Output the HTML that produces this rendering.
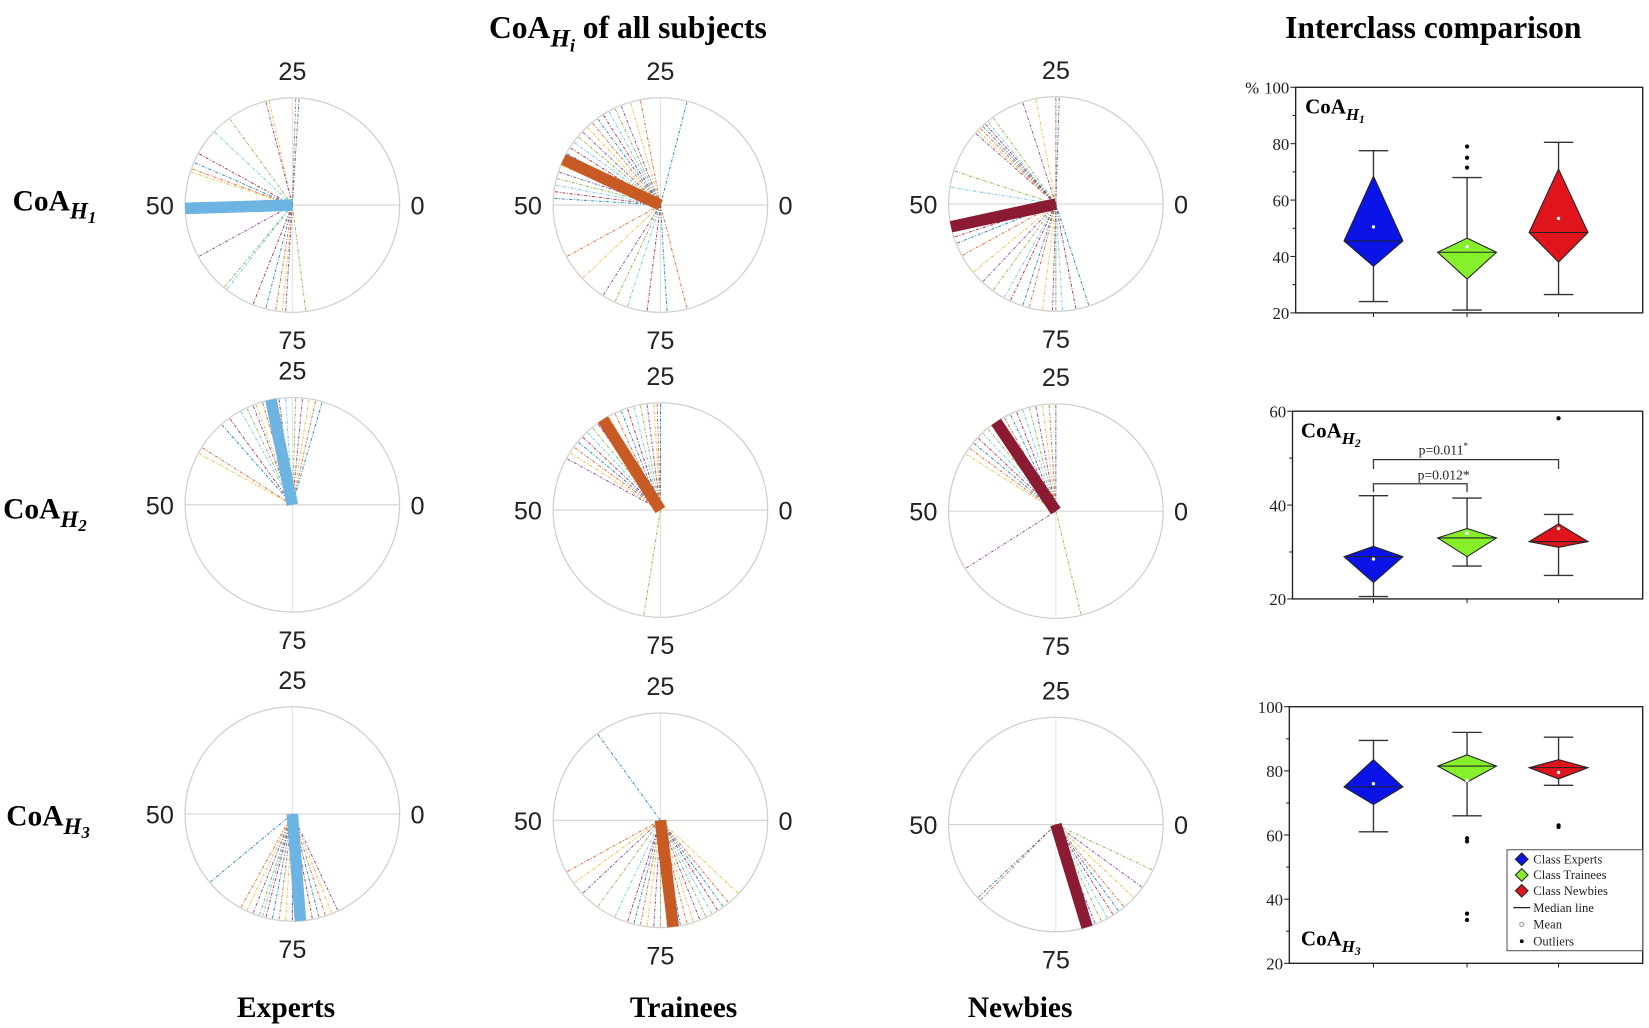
<!DOCTYPE html>
<html><head><meta charset="utf-8">
<style>
html,body{margin:0;padding:0;background:#fff;}
svg{display:block;}
.t{font-family:"Liberation Serif",serif;font-weight:bold;fill:#000;}
.pl{font-family:"Liberation Sans",sans-serif;font-size:24px;fill:#222;}
.ax{font-family:"Liberation Serif",serif;font-size:16px;fill:#222;}
</style></head>
<body>
<svg id="fig" width="1649" height="1028" viewBox="0 0 1568 977.5" preserveAspectRatio="none" xmlns="http://www.w3.org/2000/svg">
<text class="t" x="465" y="36" font-size="30">CoA<tspan font-style="italic" font-size="24" dy="8">H</tspan><tspan font-style="italic" font-size="17" dy="5">i</tspan><tspan dy="-13"> of all subjects</tspan></text>
<text class="t" x="1222" y="36" font-size="30">Interclass comparison</text>
<text class="t" x="12" y="200" font-size="28">CoA<tspan font-style="italic" font-size="22" dy="8">H</tspan><tspan font-style="italic" font-size="16" dy="4">1</tspan></text>
<text class="t" x="3" y="493" font-size="28">CoA<tspan font-style="italic" font-size="22" dy="8">H</tspan><tspan font-style="italic" font-size="16" dy="4">2</tspan></text>
<text class="t" x="6" y="785" font-size="28">CoA<tspan font-style="italic" font-size="22" dy="8">H</tspan><tspan font-style="italic" font-size="16" dy="4">3</tspan></text>
<text class="t" x="272" y="967" font-size="28" text-anchor="middle">Experts</text>
<text class="t" x="650" y="967" font-size="28" text-anchor="middle">Trainees</text>
<text class="t" x="970" y="967" font-size="28" text-anchor="middle">Newbies</text>
<g id="polars"></g>
<g id="boxes"></g>
</svg>
<script>
// ---- polar data (CoA values, 0-100 mapped around circle) ----
const expH1 = [24, 24.5, 28.5, 29, 35, 38, 42, 43.5, 44.5, 45, 58, 64, 64.5, 69, 71, 72.5, 73.5, 74, 77];
const expH1Mean = 50.5;
const traH1 = [21, 28, 29.5, 31, 32, 33, 34, 35, 36, 37, 38, 39, 40, 41, 42, 43, 44, 45, 46, 47, 48, 49, 58, 62, 66, 68, 70, 73, 76, 79];
const traH1Mean = 43;
const newH1 = [24.5, 25, 28, 30, 35, 36, 36.5, 37, 37.5, 38, 38.5, 45, 47.5, 55, 56, 58, 61, 63, 65, 67, 68, 70, 71, 73, 74.5, 75, 76, 78, 80];
const newH1Mean = 53.4;
const expH2 = [20.5, 21.5, 22.5, 23.5, 24.5, 26, 27, 28, 29.5, 30.5, 31, 32, 33, 35, 36.5, 41, 42];
const expH2Mean = 28.2;
const traH2 = [25, 25.5, 26, 27, 28, 29, 30, 31, 32, 33, 35, 36, 37, 38, 39, 40, 41, 42, 72.5];
const traH2Mean = 34;
const newH2 = [25, 26, 27, 28, 29, 30, 31, 32, 33, 34, 35, 36, 37, 38, 39, 40, 41, 59, 78.8];
const newH2Mean = 34.4;
const expH3 = [61, 67, 68, 69, 70, 70.5, 71, 72, 73, 74, 75, 76, 77, 78, 79, 80, 81, 82];
const expH3Mean = 76.2;
const traH3 = [35, 58, 60, 62, 65, 68, 70, 71, 72, 73, 74, 75, 76, 77, 78, 79, 80, 81, 82, 83, 84, 85, 86, 88];
const traH3Mean = 76.9;
const newH3 = [62, 62.5, 80, 81, 82, 83, 84, 85, 86, 88, 90, 93];
const newH3Mean = 79.7;
const lineColors = ['#0072BD','#D95319','#EDB120','#7E2F8E','#77AC30','#4DBEEE','#A2142F'];
const NS = 'http://www.w3.org/2000/svg';
function mk(tag, attrs, parent){const e=document.createElementNS(NS,tag);for(const k in attrs)e.setAttribute(k,attrs[k]);parent.appendChild(e);return e;}
function polar(name, cx, cy, r, vals, mean, thick){
  const g=mk('g',{},document.getElementById('polars'));
  
  
  const c=mk('circle',{cx:cx,cy:cy,r:r,fill:'none',stroke:'#cfcfcf','stroke-width':1.2},g);
  
  
  mk('line',{x1:cx-r,y1:cy,x2:cx+r,y2:cy,stroke:'#d0d0d0','stroke-width':1},g);
  mk('line',{x1:cx,y1:cy-r,x2:cx,y2:cy+r,stroke:'#e2e2e2','stroke-width':1},g);
  const pt=v=>{const a=v/100*2*Math.PI;return [cx+r*Math.cos(a), cy-r*Math.sin(a)];};
  vals.forEach((v,i)=>{const p=pt(v);
    const l=mk('line',{x1:cx,y1:cy,x2:p[0],y2:p[1],stroke:lineColors[i%7],'stroke-width':0.9,'stroke-dasharray':'3 1.5 1 1.5','stroke-opacity':0.85},g);
    
    
  });
  const m=pt(mean);
  const ml=mk('line',{x1:cx,y1:cy,x2:m[0],y2:m[1],stroke:thick,'stroke-width':11},g);
  
  
  const labs=[['25',cx,cy-119],['75',cx,cy+137],['0',cx+119,cy+9],['50',cx-126,cy+9]];
  labs.forEach(L=>{const t=mk('text',{x:L[1],y:L[2],'text-anchor':'middle',class:'pl'},g);t.textContent=L[0];
    
    });
}
const cE='#6cb4e2', cT='#c85a24', cN='#8b1a33';
polar('polar-experts-h1',278,195,102,expH1,expH1Mean,cE);
polar('polar-trainees-h1',628,195,102,traH1,traH1Mean,cT);
polar('polar-newbies-h1',1004,194,102,newH1,newH1Mean,cN);
polar('polar-experts-h2',278,480,102,expH2,expH2Mean,cE);
polar('polar-trainees-h2',628,485,102,traH2,traH2Mean,cT);
polar('polar-newbies-h2',1004,486,102,newH2,newH2Mean,cN);
polar('polar-experts-h3',278,774,102,expH3,expH3Mean,cE);
polar('polar-trainees-h3',628,780,102,traH3,traH3Mean,cT);
polar('polar-newbies-h3',1004,784,102,newH3,newH3Mean,cN);

// ---- box plot data: [experts, trainees, newbies] ----
const h1WhiskLo=[24,21,26.5], h1WhiskHi=[77.5,68,80.5], h1DiaLo=[36.5,32,38], h1DiaHi=[68.5,46.5,71], h1Median=[45.5,41.5,48.5], h1Mean=[50.5,43.5,53.5];
const h1Outliers=[[],[71.5,75,79],[]];
const h1Ticks=[20,40,60,80,100];
const h2WhiskLo=[20.5,27,25], h2WhiskHi=[42,41.5,38], h2DiaLo=[23.5,29,31], h2DiaHi=[31.2,35,36], h2Median=[29,33,32.2], h2Mean=[28.5,34,35];
const h2Outliers=[[],[],[58.5]];
const h2Ticks=[20,40,60];
const h3WhiskLo=[61,66,75.5], h3WhiskHi=[89.5,92,90.5], h3DiaLo=[69.5,76.5,77.5], h3DiaHi=[83.5,85,83.5], h3Median=[75,81.5,81], h3Mean=[76,77,79.5];
const h3Outliers=[[],[33.5,35.5,58,59],[62.5,63]];
const h3Ticks=[20,40,60,80,100];
const boxFill=['#0a14e6','#86f02a','#e0141c'];
const catX=[1306,1395,1482];
function boxplot(name, x0, x1, yTop, yBot, vmin, vmax, ticks, minorStep, lo, hi, dlo, dhi, med, mean, outl){
  const g=mk('g',{},document.getElementById('boxes'));
  
  
  const y=v=>yBot-(v-vmin)/(vmax-vmin)*(yBot-yTop);
  mk('rect',{x:x0,y:yTop,width:x1-x0,height:yBot-yTop,fill:'none',stroke:'#222','stroke-width':1.3},g);
  ticks.forEach(t=>{mk('line',{x1:x0-5,y1:y(t),x2:x0,y2:y(t),stroke:'#222'},g);
    const tx=mk('text',{x:x0-6,y:y(t)+6,'text-anchor':'end',class:'ax'},g);tx.textContent=t;
    
    });
  for(let v=vmin+minorStep; v<vmax; v+=minorStep*2){mk('line',{x1:x0-3,y1:y(v),x2:x0,y2:y(v),stroke:'#222'},g);}
  catX.forEach(cx=>mk('line',{x1:cx,y1:yBot,x2:cx,y2:yBot+4,stroke:'#222'},g));
  catX.forEach((cx,i)=>{
    const w=28, cap=14;
    mk('line',{x1:cx,y1:y(lo[i]),x2:cx,y2:y(dlo[i]),stroke:'#333','stroke-width':1.3},g);
    mk('line',{x1:cx,y1:y(hi[i]),x2:cx,y2:y(dhi[i]),stroke:'#333','stroke-width':1.3},g);
    mk('line',{x1:cx-cap,y1:y(lo[i]),x2:cx+cap,y2:y(lo[i]),stroke:'#333','stroke-width':1.3},g);
    mk('line',{x1:cx-cap,y1:y(hi[i]),x2:cx+cap,y2:y(hi[i]),stroke:'#333','stroke-width':1.3},g);
    const d=mk('polygon',{points:`${cx},${y(dhi[i])} ${cx+w},${y(med[i])} ${cx},${y(dlo[i])} ${cx-w},${y(med[i])}`,fill:boxFill[i],stroke:'#222','stroke-width':1},g);
    
    
    mk('line',{x1:cx-w,y1:y(med[i]),x2:cx+w,y2:y(med[i]),stroke:'#222','stroke-width':1},g);
    mk('circle',{cx:cx,cy:y(mean[i]),r:1.6,fill:'#fff'},g);
    outl[i].forEach(o=>{const c=mk('circle',{cx:cx,cy:y(o),r:2,fill:'#000'},g);
      
      });
  });
  return y;
}
boxplot('boxplot-h1',1232,1562,83,297.5,20,100,h1Ticks,10,h1WhiskLo,h1WhiskHi,h1DiaLo,h1DiaHi,h1Median,h1Mean,h1Outliers);
boxplot('boxplot-h2',1229,1562,391,569.5,20,60,h2Ticks,10,h2WhiskLo,h2WhiskHi,h2DiaLo,h2DiaHi,h2Median,h2Mean,h2Outliers);
boxplot('boxplot-h3',1226,1562,672,916,20,100,h3Ticks,10,h3WhiskLo,h3WhiskHi,h3DiaLo,h3DiaHi,h3Median,h3Mean,h3Outliers);
</script>
<svg style="position:absolute;left:0;top:0" width="1649" height="1028" viewBox="0 0 1568 977.5" preserveAspectRatio="none" xmlns="http://www.w3.org/2000/svg">
<text x="1184" y="89" font-size="16" font-family="Liberation Serif" fill="#222">%</text>
<text class="t" x="1241" y="108" font-size="20">CoA<tspan font-style="italic" font-size="16" dy="6">H</tspan><tspan font-style="italic" font-size="11" dy="3">1</tspan></text>
<text class="t" x="1237" y="416" font-size="20">CoA<tspan font-style="italic" font-size="16" dy="6">H</tspan><tspan font-style="italic" font-size="11" dy="3">2</tspan></text>
<text class="t" x="1237" y="899" font-size="20">CoA<tspan font-style="italic" font-size="16" dy="6">H</tspan><tspan font-style="italic" font-size="11" dy="3">3</tspan></text>
<g fill="none" stroke="#333" stroke-width="1.2">
<path d="M1306,446 V437 H1482 V446"/>
<path d="M1306,468 V460 H1395 V468"/>
</g>
<text x="1349" y="432" font-family="Liberation Serif" font-size="13" fill="#222">p=0.011<tspan font-size="9" dy="-5">*</tspan></text>
<text x="1348" y="456" font-family="Liberation Serif" font-size="13" fill="#222">p=0.012*</text>
<g font-family="Liberation Serif" font-size="12" fill="#222">
<rect x="1433" y="808" width="129" height="96" fill="#fff" stroke="#555" stroke-width="1"/>
<polygon points="1447,811 1453,817 1447,823 1441,817" fill="#0a14e6" stroke="#222"/>
<text x="1458" y="821">Class Experts</text>
<polygon points="1447,826 1453,832 1447,838 1441,832" fill="#86f02a" stroke="#222"/>
<text x="1458" y="836">Class Trainees</text>
<polygon points="1447,841 1453,847 1447,853 1441,847" fill="#e0141c" stroke="#222"/>
<text x="1458" y="851">Class Newbies</text>
<line x1="1439" y1="863" x2="1455" y2="863" stroke="#222" stroke-width="1.2"/>
<text x="1458" y="867">Median line</text>
<circle cx="1447" cy="879" r="2" fill="none" stroke="#999"/>
<text x="1458" y="883">Mean</text>
<circle cx="1447" cy="895" r="1.8" fill="#000"/>
<text x="1458" y="899">Outliers</text>
</g>
</svg>
</body></html>
